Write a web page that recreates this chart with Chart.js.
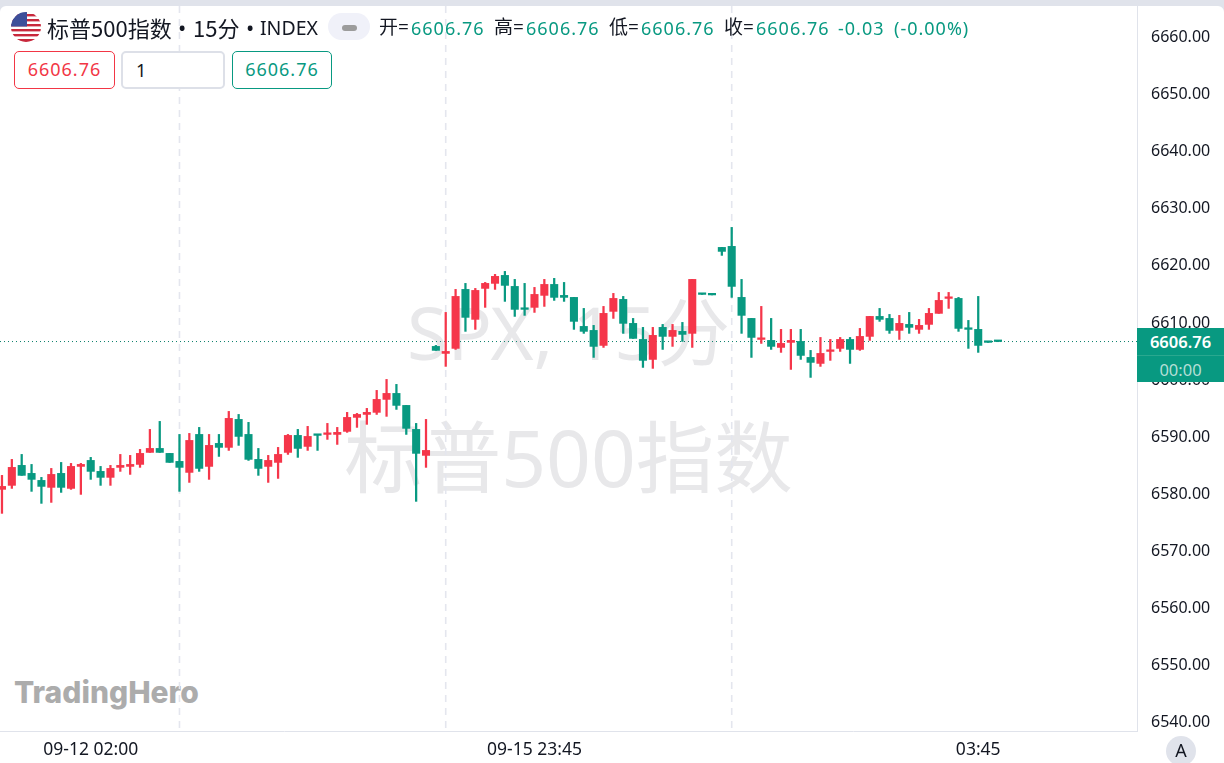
<!DOCTYPE html>
<html><head><meta charset="utf-8">
<script src="https://cdn.jsdelivr.net/npm/chart.js@4"></script>
<style>
html,body{margin:0;padding:0;background:#fff;}
body{width:1224px;height:763px;overflow:hidden;position:relative;font-family:"Noto Sans","Noto Sans CJK SC",sans-serif;color:#131722;}
#band{position:absolute;left:0;top:0;width:1224px;height:6px;background:#E0E3EB;}
.corner{position:absolute;top:6px;width:6px;height:6px;}
#chartBox{position:absolute;left:0;top:0;z-index:2;}
.wm{position:absolute;left:0;width:1137px;text-align:center;color:#E8E8EA;z-index:1;font-family:"Noto Sans","Noto Sans CJK SC",sans-serif;white-space:nowrap;line-height:1;}
.t{position:absolute;z-index:3;white-space:nowrap;line-height:1;}
.h{font-size:22px;top:16px;font-family:"Noto Sans CJK SC",sans-serif;}
.k{font-size:19px;top:18px;font-family:"Noto Sans","Noto Sans CJK SC",sans-serif;}
.g{color:#089981;letter-spacing:1px;font-size:18px;top:19px;}
.box{position:absolute;z-index:3;top:51px;height:38px;box-sizing:border-box;border-radius:5px;background:#fff;font-size:18px;letter-spacing:1px;line-height:35px;}
#priceBox{position:absolute;z-index:4;left:1137px;top:328px;width:87px;height:54px;background:#089981;text-align:center;}
#priceBox div{height:27px;line-height:27px;}
</style></head>
<body>
<div id="band"></div>
<svg class="corner" style="left:0;z-index:5"><path d="M0 0H6A6 6 0 0 0 0 6Z" fill="#E0E3EB"/></svg>
<svg class="corner" style="left:1218px;z-index:5"><path d="M0 0H6V6A6 6 0 0 0 0 0Z" fill="#E0E3EB"/></svg>
<div class="wm" style="top:295px;font-size:73.5px;">SPX, 15分</div>
<div class="wm" style="top:418px;font-size:78.5px;">标普500指数</div>
<div class="t" style="left:14px;top:677px;font-family:Inter,sans-serif;font-weight:800;font-size:30px;color:#ACACAC;z-index:1;">TradingHero</div>
<div id="chartBox"><canvas id="c" width="1224" height="763" style="display:block"></canvas></div>

<svg class="t" style="left:11px;top:12px" width="30" height="30" viewBox="0 0 30 30">
<defs><clipPath id="fl"><circle cx="15" cy="15" r="15"/></clipPath></defs>
<g clip-path="url(#fl)"><rect width="30" height="30" fill="#fff"/>
<g fill="#C8283C"><rect y="2" width="30" height="2.4"/><rect y="7" width="30" height="2.4"/><rect y="12" width="30" height="2.4"/><rect y="17" width="30" height="2.4"/><rect y="22" width="30" height="2.4"/><rect y="27" width="30" height="3"/></g>
<rect width="16" height="14.5" fill="#3D4F9A"/></g></svg>
<div class="t h" style="left:47px;">标普500指数</div>
<div class="t h" style="left:178px;font-family:'Noto Sans';">•</div>
<div class="t h" style="left:193px;">15分</div>
<div class="t h" style="left:246px;font-family:'Noto Sans';">•</div>
<div class="t h" style="left:260px;top:18px;font-size:19.5px;font-family:'Noto Sans';">INDEX</div>
<div class="t" style="left:328px;top:13px;width:42px;height:27px;border-radius:14px;background:#F0F1F9;"></div>
<div class="t" style="left:342px;top:25px;width:15px;height:6px;border-radius:3px;background:#9C9C9C;"></div>

<div class="t k" style="left:379px;">开=</div>
<div class="t g" style="left:411px;">6606.76</div>
<div class="t k" style="left:494px;">高=</div>
<div class="t g" style="left:526px;">6606.76</div>
<div class="t k" style="left:609px;">低=</div>
<div class="t g" style="left:641px;">6606.76</div>
<div class="t k" style="left:724px;">收=</div>
<div class="t g" style="left:756px;">6606.76</div>
<div class="t g" style="left:838px;">-0.03</div>
<div class="t g" style="left:894px;">(-0.00%)</div>

<div class="box" style="left:14px;width:101px;border:1.5px solid #F23645;color:#F23645;text-align:center;">6606.76</div>
<div class="box" style="left:121px;width:104px;border:2px solid #DDE0E8;padding-left:13px;">1</div>
<div class="box" style="left:232px;width:100px;border:1.5px solid #089981;color:#089981;text-align:center;">6606.76</div>

<div id="priceBox">
<div style="color:#fff;font-size:16.5px;font-weight:600;border-bottom:1px solid #2AA88F;height:27px;">6606.76</div>
<div style="color:#B5DFD6;font-size:16.5px;">00:00</div>
</div>
<div class="t" style="left:1166px;top:736px;width:30px;height:30px;border-radius:15px;background:#E0E3EB;text-align:center;line-height:28px;font-size:18px;z-index:4;">A</div>

<script>
const opens=[6580.88,6581.58,6585.08,6583.68,6582.45,6581.23,6583.68,6581.05,6584.90,6585.95,6584.03,6582.98,6584.73,6584.90,6585.25,6587.35,6588.05,6587.18,6585.78,6583.85,6590.50,6584.90,6588.93,6588.23,6593.13,6590.50,6586.13,6584.90,6585.60,6587.35,6590.33,6588.40,6590.50,6590.50,6590.50,6591.03,6593.48,6594.00,6594.36,6596.63,6597.68,6595.58,6591.38,6586.83,6605.91,6604.68,6605.56,6615.89,6610.64,6616.06,6616.94,6618.34,6616.41,6612.56,6612.74,6614.84,6616.76,6614.84,6614.49,6609.41,6608.71,6606.08,6612.04,6614.14,6609.94,6607.13,6603.63,6609.24,6607.66,6608.54,6608.19,6615.19,6615.10,6623.24,6623.42,6614.49,6610.81,6607.13,6606.96,6605.73,6606.61,6606.78,6603.98,6602.93,6605.03,6605.56,6607.13,6605.38,6607.66,6611.16,6610.81,6608.71,6609.76,6608.89,6609.76,6611.69,6614.31,6614.31,6609.06,6608.89,6606.78,6606.79];
const highs=[6583.33,6586.13,6587.00,6585.25,6582.98,6584.55,6585.60,6585.43,6585.43,6586.48,6584.90,6585.08,6587.00,6586.83,6587.88,6591.38,6592.78,6587.18,6590.50,6590.68,6591.73,6590.50,6590.50,6594.53,6594.00,6592.61,6588.05,6586.83,6588.23,6590.50,6591.38,6591.91,6590.50,6592.43,6591.73,6594.36,6594.18,6595.06,6598.21,6600.13,6599.26,6595.58,6592.43,6593.13,6606.08,6611.86,6615.89,6616.94,6616.06,6617.11,6618.52,6619.04,6617.64,6616.94,6616.24,6617.64,6617.82,6617.11,6614.49,6612.56,6609.59,6612.91,6615.19,6614.66,6610.81,6609.24,6609.24,6609.76,6609.76,6610.11,6617.64,6615.19,6615.10,6623.24,6626.74,6617.64,6610.81,6612.91,6610.81,6608.89,6608.89,6608.89,6605.21,6607.48,6607.13,6607.48,6607.48,6609.06,6611.16,6612.56,6611.51,6611.34,6611.86,6610.64,6612.56,6615.36,6615.36,6614.49,6610.46,6614.66,6606.78,6606.79];
const lows=[6576.68,6581.05,6583.33,6580.53,6578.43,6578.60,6580.35,6580.88,6580.00,6582.63,6581.58,6581.58,6584.03,6583.50,6584.73,6587.35,6587.35,6585.60,6580.53,6582.10,6584.03,6582.63,6586.65,6587.70,6588.58,6585.95,6583.33,6582.10,6582.80,6587.00,6586.48,6587.70,6587.70,6589.63,6588.75,6590.86,6591.73,6592.26,6594.00,6593.66,6594.88,6590.50,6578.78,6584.73,6605.21,6602.41,6605.38,6608.54,6608.89,6612.74,6615.89,6613.79,6611.16,6611.34,6611.86,6612.91,6613.96,6613.79,6608.89,6608.19,6603.98,6605.73,6610.81,6608.19,6607.31,6602.23,6602.06,6605.38,6605.91,6606.78,6605.73,6615.01,6614.92,6621.84,6614.49,6608.19,6603.98,6606.43,6605.38,6604.86,6601.88,6603.63,6600.48,6602.41,6603.46,6605.03,6602.93,6605.21,6606.96,6610.29,6608.19,6607.13,6608.19,6608.19,6608.89,6611.69,6612.56,6608.54,6605.56,6604.86,6606.61,6606.73];
const closes=[6581.40,6584.73,6583.33,6582.63,6581.40,6583.50,6581.23,6584.90,6585.25,6584.03,6582.98,6584.55,6585.08,6585.25,6587.18,6588.05,6587.35,6585.60,6584.73,6589.45,6584.55,6588.58,6588.23,6593.31,6590.15,6586.13,6584.55,6585.95,6587.00,6590.33,6588.05,6590.15,6590.33,6590.68,6590.86,6593.48,6594.00,6594.36,6596.63,6597.68,6595.58,6591.56,6587.18,6587.70,6605.21,6605.03,6614.66,6610.99,6615.71,6616.94,6618.17,6616.59,6612.39,6612.39,6615.01,6616.76,6614.49,6614.49,6610.29,6608.54,6605.91,6611.69,6614.31,6609.94,6607.31,6603.46,6607.84,6607.66,6608.71,6608.01,6617.64,6615.01,6614.92,6622.54,6616.41,6611.34,6607.48,6607.31,6605.91,6606.43,6606.96,6604.33,6603.11,6604.68,6605.21,6607.13,6605.38,6607.66,6611.16,6610.64,6608.71,6609.94,6609.24,6609.59,6611.69,6613.96,6614.49,6609.06,6608.89,6606.08,6606.61,6606.76];
const priceTicks=[6660,6650,6640,6630,6620,6610,6600,6590,6580,6570,6560,6550,6540];
const timeTickIndex=[9,54,99];
const timeTickLabels=["09-12 02:00","09-15 23:45","03:45"];
const sessionBreaks=[18,45,74];
const lastPrice=6606.76;

const UP="#F5364A",DOWN="#089981";
const colors=opens.map((o,i)=>closes[i]>=o?UP:DOWN);
const X_MIN=-0.2,X_MAX=115.1;

const sessionLines={id:"sessionLines",beforeDatasetsDraw(chart){
  const {ctx,chartArea:a,scales:{x}}=chart;
  ctx.save();ctx.strokeStyle="#E4E6EE";ctx.lineWidth=1.6;ctx.setLineDash([7,6]);
  sessionBreaks.forEach(b=>{const px=x.getPixelForValue(b);ctx.beginPath();ctx.moveTo(px,a.top);ctx.lineTo(px,a.bottom);ctx.stroke();});
  ctx.restore();
}};

new Chart(document.getElementById("c"),{
  data:{datasets:[
    {type:"line",order:3,data:[{x:X_MIN,y:lastPrice},{x:X_MAX,y:lastPrice}],borderColor:"#0B7F6B",borderWidth:1,borderDash:[1,3],pointRadius:0,fill:false},
    {type:"bar",order:2,grouped:false,barThickness:1.6,data:opens.map((_,i)=>({x:i,y:[lows[i],highs[i]]})),backgroundColor:colors,borderWidth:0},
    {type:"bar",order:1,grouped:false,barThickness:7.4,minBarLength:1.6,data:opens.map((o,i)=>({x:i,y:[o,closes[i]]})),backgroundColor:colors,borderWidth:0}
  ]},
  options:{
    responsive:false,animation:false,
    layout:{padding:{top:6,left:0,right:0,bottom:0}},
    plugins:{legend:{display:false},tooltip:{enabled:false}},
    events:[],
    scales:{
      x:{type:"linear",min:X_MIN,max:X_MAX,offset:false,
        grid:{display:false,drawTicks:false},
        border:{display:true,color:"#E0E3EB",width:1},
        afterBuildTicks(s){s.ticks=timeTickIndex.map(v=>({value:v}));},
        afterFit(s){s.height=32;s.paddingLeft=0;s.paddingRight=0;},
        ticks:{autoSkip:false,maxRotation:0,padding:9,color:"#131722",font:{family:"'Noto Sans'",size:17.5},
          callback(v){return timeTickLabels[timeTickIndex.indexOf(v)];}}
      },
      y:{type:"linear",position:"right",min:6538.58,max:6665.50,
        grid:{display:false,drawTicks:false},
        border:{display:true,color:"#E0E3EB",width:1},
        afterBuildTicks(s){s.ticks=priceTicks.map(v=>({value:v}));},
        afterFit(s){s.width=87;s.paddingTop=0;s.paddingBottom=0;},
        ticks:{autoSkip:false,padding:14,color:"#131722",font:{family:"'Noto Sans'",size:16},
          callback(v){return v.toFixed(2);}}
      }
    }
  },
  plugins:[sessionLines]
});
</script>
</body></html>
